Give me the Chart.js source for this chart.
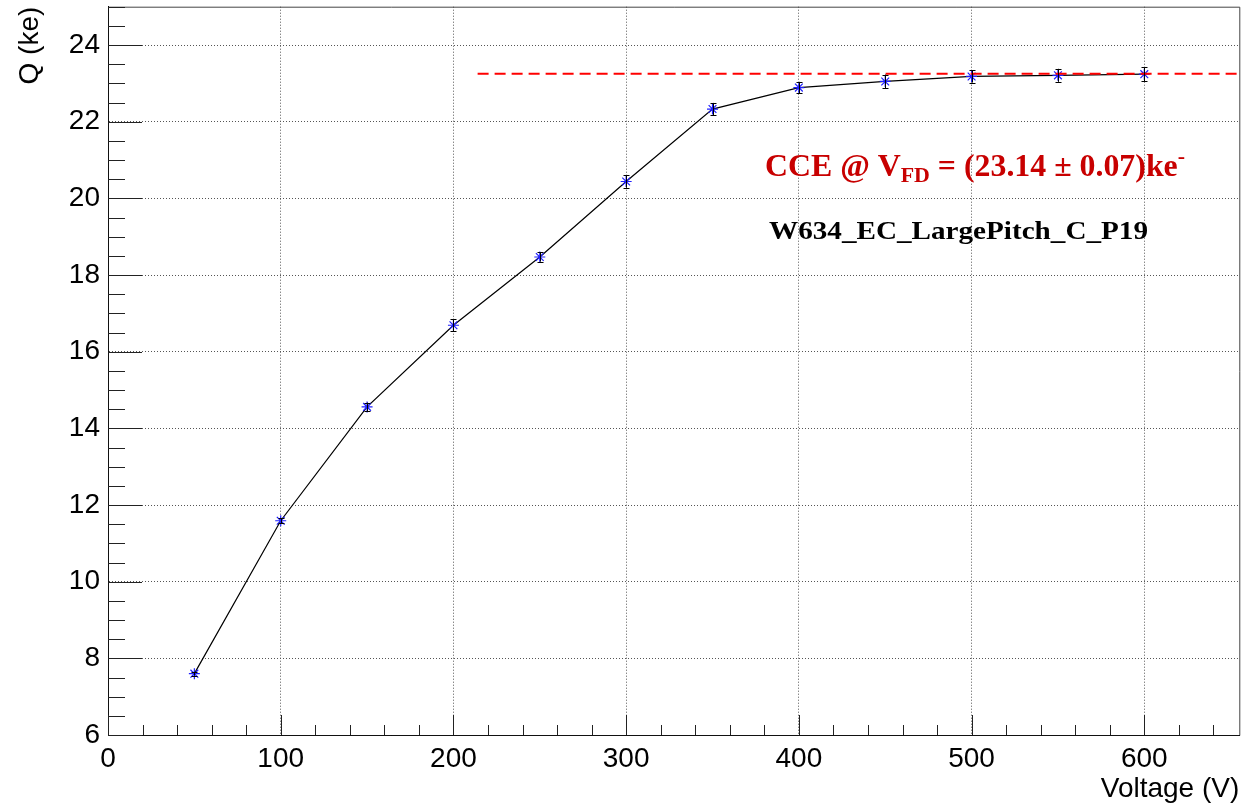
<!DOCTYPE html>
<html>
<head>
<meta charset="utf-8">
<script src="https://cdn.jsdelivr.net/npm/chart.js@4.4.1/dist/chart.umd.min.js"></script>
<style>
  html, body { margin: 0; padding: 0; background: #fff; }
  #wrap { width: 1246px; height: 805px; position: relative; }
</style>
</head>
<body>
<div id="wrap"><canvas id="c" width="1246" height="805"></canvas></div>
<script>
// ---- data ----
const voltage   = [50, 100, 150, 200, 250, 300, 350, 400, 450, 500, 550, 600];
const charge    = [7.60, 11.59, 14.56, 16.69, 18.47, 20.44, 22.33, 22.89, 23.05, 23.18, 23.21, 23.24];
const chargeErr = [0.05, 0.06, 0.11, 0.15, 0.12, 0.16, 0.16, 0.15, 0.18, 0.16, 0.17, 0.18];
const plateauLevel = [23.25, 23.25];
const plateauVolt  = [214, 655];
const xTicks = [0, 100, 200, 300, 400, 500, 600];
const yTicks = [6, 8, 10, 12, 14, 16, 18, 20, 22, 24];
const xRange = [0, 655];
const yRange = [6, 25];
const xTitle = 'Voltage (V)';
const yTitle = 'Q (ke)';
const cceMain = 'CCE @ V';
const cceSub = 'FD';
const cceRest = ' = (23.14 \u00b1 0.07)ke';
const cceSup = '-';
const sampleName = 'W634_EC_LargePitch_C_P19';

const SANS = '"Liberation Sans", Arial, sans-serif';
const SERIF = '"Liberation Serif", "Times New Roman", serif';

const rootDecor = {
  id: 'rootDecor',
  afterDatasetsDraw(chart) {
    const { ctx, scales: { x, y } } = chart;
    // error bars
    ctx.save();
    ctx.strokeStyle = '#000';
    ctx.lineWidth = 1;
    for (let i = 0; i < voltage.length; i++) {
      const px = Math.round(x.getPixelForValue(voltage[i])) + 0.5;
      const y1 = y.getPixelForValue(charge[i] + chargeErr[i]);
      const y2 = y.getPixelForValue(charge[i] - chargeErr[i]);
      ctx.beginPath();
      ctx.moveTo(px, y1); ctx.lineTo(px, y2);
      ctx.moveTo(px - 3, Math.round(y1) + 0.5); ctx.lineTo(px + 3, Math.round(y1) + 0.5);
      ctx.moveTo(px - 3, Math.round(y2) + 0.5); ctx.lineTo(px + 3, Math.round(y2) + 0.5);
      ctx.stroke();
    }
    ctx.restore();
  },
  afterDraw(chart) {
    const { ctx, chartArea: a, scales: { x, y } } = chart;
    ctx.save();
    // frame
    ctx.lineWidth = 1;
    ctx.strokeStyle = '#444';
    ctx.beginPath();
    ctx.moveTo(a.left + 0.5, a.top + 0.5); ctx.lineTo(a.right + 0.5, a.top + 0.5);
    ctx.lineTo(a.right + 0.5, a.bottom + 0.5);
    ctx.stroke();
    ctx.strokeStyle = '#111';
    ctx.beginPath();
    ctx.moveTo(a.left + 0.5, a.top + 0.5); ctx.lineTo(a.left + 0.5, a.bottom + 0.5);
    ctx.lineTo(a.right + 0.5, a.bottom + 0.5);
    ctx.stroke();
    // x ticks (inside)
    ctx.strokeStyle = '#222';
    ctx.beginPath();
    for (let i = 0; i * 20 <= xRange[1]; i++) {
      const v = i * 20;
      const px = Math.round(x.getPixelForValue(v)) + 0.5;
      const len = (i % 5 === 0) ? 20 : 10;
      ctx.moveTo(px, a.bottom); ctx.lineTo(px, a.bottom - len);
    }
    // y ticks (inside)
    for (let i = 0; yRange[0] + i * 0.5 <= yRange[1] + 1e-9; i++) {
      const v = yRange[0] + i * 0.5;
      const py = Math.round(y.getPixelForValue(v)) + 0.5;
      const len = (i % 4 === 0) ? 34 : 17;
      ctx.moveTo(a.left, py); ctx.lineTo(a.left + len, py);
    }
    ctx.stroke();

    // axis titles
    ctx.fillStyle = '#000';
    ctx.font = '28px ' + SANS;
    ctx.textAlign = 'right';
    ctx.textBaseline = 'alphabetic';
    ctx.fillText(xTitle, a.right, 797);
    ctx.save();
    ctx.translate(38, a.top);
    ctx.rotate(-Math.PI / 2);
    ctx.textAlign = 'right';
    ctx.fillText(yTitle, 0, 0);
    ctx.restore();

    // CCE annotation
    ctx.textAlign = 'left';
    ctx.fillStyle = '#c80000';
    const big = 'bold 32px ' + SERIF, small = 'bold 22px ' + SERIF;
    ctx.font = big; const w1 = ctx.measureText(cceMain).width;
    ctx.font = small; const w2 = ctx.measureText(cceSub).width;
    ctx.font = big; const w3 = ctx.measureText(cceRest).width;
    ctx.font = small; const w4 = ctx.measureText(cceSup).width;
    const total = w1 + w2 + w3 + w4;
    const sx = 420 / total;
    ctx.save();
    ctx.translate(765, 176);
    ctx.scale(sx, 1);
    let cx = 0;
    ctx.font = big; ctx.fillText(cceMain, cx, 0); cx += w1;
    ctx.font = small; ctx.fillText(cceSub, cx, 6); cx += w2;
    ctx.font = big; ctx.fillText(cceRest, cx, 0); cx += w3;
    ctx.font = small; ctx.fillText(cceSup, cx, -13);
    ctx.restore();

    // sample name
    ctx.fillStyle = '#000';
    ctx.font = 'bold 26px ' + SERIF;
    const wn = ctx.measureText(sampleName).width;
    ctx.save();
    ctx.translate(769, 239);
    ctx.scale(379 / wn, 1);
    ctx.fillText(sampleName, 0, 0);
    ctx.restore();

    ctx.restore();
  }
};

const noPad = (s) => { s.paddingTop = 0; s.paddingBottom = 0; s.paddingLeft = 0; s.paddingRight = 0; };

new Chart(document.getElementById('c'), {
  type: 'scatter',
  data: {
    datasets: [
      {
        label: 'plateau',
        data: plateauVolt.map((v, i) => ({ x: v, y: plateauLevel[i] })),
        showLine: true,
        borderColor: 'rgb(255,0,0)',
        borderWidth: 2,
        borderDash: [11, 6],
        pointRadius: 0,
        order: 0
      },
      {
        label: 'Q',
        data: voltage.map((v, i) => ({ x: v, y: charge[i] })),
        showLine: true,
        borderColor: '#000',
        borderWidth: 1.2,
        pointStyle: 'star',
        pointRadius: 5.5,
        pointBorderColor: 'rgb(30,30,255)',
        pointBackgroundColor: 'rgb(30,30,255)',
        pointBorderWidth: 1.2,
        order: 1
      }
    ]
  },
  options: {
    responsive: false,
    animation: false,
    events: [],
    layout: { padding: { left: 0, top: 5, right: 4, bottom: 0 } },
    plugins: { legend: { display: false }, tooltip: { enabled: false }, title: { display: false } },
    scales: {
      x: {
        type: 'linear',
        min: xRange[0], max: xRange[1],
        afterBuildTicks: (s) => { s.ticks = xTicks.map(v => ({ value: v })); },
        afterFit: (s) => { s.height = 70; noPad(s); },
        ticks: { color: '#000', font: { size: 28, family: SANS }, padding: 7, maxRotation: 0, autoSkip: false },
        grid: { color: '#555', lineWidth: 1, drawTicks: false },
        border: { display: true, color: '#000', dash: [1, 2] }
      },
      y: {
        type: 'linear',
        min: yRange[0], max: yRange[1],
        afterBuildTicks: (s) => { s.ticks = yTicks.map(v => ({ value: v })); },
        afterFit: (s) => { s.width = 108; noPad(s); },
        ticks: { color: '#000', font: { size: 28, family: SANS }, padding: 8, autoSkip: false },
        grid: { color: '#555', lineWidth: 1, drawTicks: false },
        border: { display: true, color: '#000', dash: [1, 2] }
      }
    }
  },
  plugins: [rootDecor]
});
</script>
</body>
</html>
